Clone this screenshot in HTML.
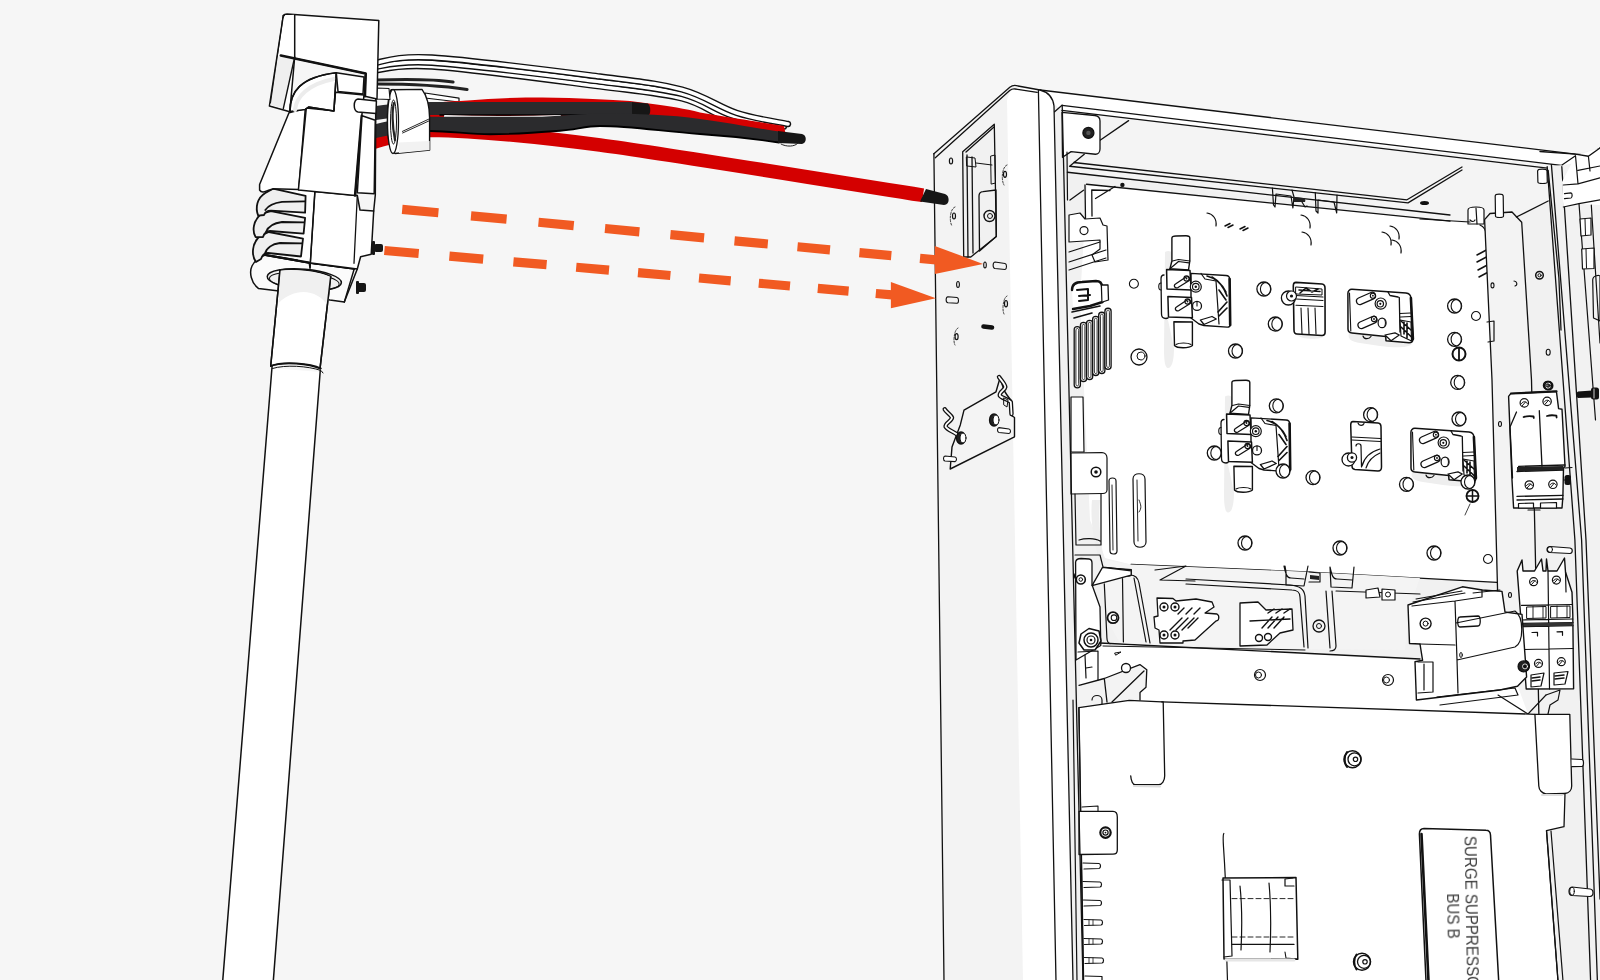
<!DOCTYPE html>
<html><head><meta charset="utf-8">
<style>
html,body{margin:0;padding:0;background:#f6f6f6;width:1600px;height:980px;overflow:hidden}
svg{display:block;position:absolute;left:0;top:0}
</style></head><body>
<svg width="1600" height="980" viewBox="0 0 1600 980">
<rect width="1600" height="980" fill="#f6f6f6"/>

<g id="cabinet" stroke="#111" stroke-width="1.3" fill="none" stroke-linejoin="round" stroke-linecap="round">
  <!-- interior base -->
  <path d="M1054,100 L1575,154 L1600,148 L1600,980 L1073,980 Z" fill="#f1f1f1" stroke="none"/>
  <!-- ceiling panel -->
  <path d="M1062,110 L1563,166 L1549,200 L1518,216 L1450,221 L1070,173 Z" fill="#f4f4f4" stroke="none"/>
  <!-- mounting plate -->
  <path d="M1087,185 L1250,201.5 L1450,221.2 L1480,225 C1484,227 1486,230 1486,234 L1503.5,574 C1503.5,579 1501,582 1497,582.3 L1300,571.6 L1131,564.5 L1105,558 L1090,520 L1080,300 Z" fill="#fff" stroke="none"/>
  <path d="M1480,225 C1484,227 1486,230 1486,234 L1503.5,574 C1503.5,579 1501,582 1497,582.3 L1300,571.6 L1131,564.5" stroke-width="1.3"/>
  <!-- plate top bracket -->
  <path d="M1086.5,184.25 L1450,221.2 M1067.4,172.25 L1450,215 M1073.75,162.5 L1407,199.8 L1462,167 M1069.6,166.25 L1408,202.9 L1462,170 M1084.25,154.25 L1069.6,166.25"/>
  <path d="M1085,185 L1085.5,218.6 M1091.75,190 L1092,216 M1070,200 L1083.5,190.25 M1095.5,198.5 L1115,186.5 M1091.75,190 L1110,190.5"/>
  <circle cx="1122.4" cy="184.9" r="2.2" fill="#111" stroke="none"/>
  <ellipse cx="1424.5" cy="202.9" rx="4.5" ry="2" fill="#111" stroke="none"/>
  <g id="toptabs" stroke-width="1.2">
    <path d="M1272.4,188 L1273.5,205 L1275,207 L1276,194 L1291,196 L1292.9,208 L1294,197 L1292,190" fill="none"/>
    <path d="M1293,197 L1303,198 C1305,198.5 1306,200 1305,202 L1294,202 Z" fill="#222" stroke="none"/>
    <path d="M1302,202 L1305,207 L1307,206" />
    <path d="M1315.3,192.7 L1316,211 L1318,213 L1318,200 L1334,202 L1336.7,213 L1337,195" fill="none"/>
    <path d="M1468,210 C1468,206 1484,206 1484,210 L1484,224 L1468,224 Z" fill="#fff"/>
    <path d="M1476,208 L1477,224 M1470,220 C1472,222 1474,222 1475,220" />
    <path d="M1420,219 L1470,222" />
  </g>
  <!-- ceiling diagonal from bracket -->
  <path d="M1099,141 L1128.6,120.6"/>
  <!-- plate details -->
  <defs>
    <g id="so"><circle cx="0" cy="0" r="7" fill="#fff" stroke-width="1.3"/><path d="M2,-6.6 A7,7 0 0 1 2,6.6 A5.5,6.6 0 0 1 2,-6.6 Z" fill="#fff" stroke-width="1.1"/></g>
    <g id="hole"><circle cx="0" cy="0" r="4.5" fill="#fff" stroke-width="1.1"/></g>
    <g id="holderA">
      <path d="M1171.9,238 C1172,236.5 1174,236 1176,236 L1186,235.8 C1188.5,235.8 1189.8,236.5 1189.8,238 L1189.8,261 L1188.5,270 L1169.9,268.8 L1171.9,261 Z" fill="#fff" stroke-width="1.4"/>
      <path d="M1172.5,261 L1178.5,259.5 L1189.8,261 M1169.9,268.8 L1178.5,261.5 L1189,262.8" stroke-width="1.2"/>
      <path d="M1164,275 C1162,275 1161,277 1161,279 L1161.5,314 C1161.5,317 1163,318.5 1166,318.5 L1168,318" fill="#fff" stroke-width="1.3"/>
      <path d="M1161,283 C1158,283 1158,290 1161,290" stroke-width="1.1"/>
      <path d="M1191,273.4 L1226,275.5 C1228.5,275.6 1229.6,277 1229.6,279 L1230.2,325 C1230.2,326.5 1229,327.3 1227,327.1 L1204,325.5 L1199,324 L1191,318 Z" fill="#fff" stroke-width="1.4"/>
      <path d="M1229.6,279 L1230.2,325" stroke-width="2.6"/>
      <path d="M1207,276 C1215,278 1222,284 1226,292 M1212,277 C1219,281 1224,287 1227,296 M1219,290 L1226,300 M1218,312 L1227,302 M1219,316 L1227,308" stroke-width="1.6"/>
      <path d="M1201,273.5 L1205,279 L1216,281 L1219,324" stroke-width="1.2"/>
      <path d="M1200.4,320 L1212,316.5 L1216.3,319 L1204,324.5 Z" fill="#fff" stroke-width="1.3"/>
      <path d="M1166.6,269.4 L1190,270.5 L1191.1,290 L1167,289 Z" fill="#fff" stroke-width="1.5"/>
      <path d="M1167.9,296.6 L1191.5,297.5 L1192.4,317.8 L1168.5,317 Z" fill="#fff" stroke-width="1.5"/>
      <path d="M1175.5,284 L1186,277 C1189,275.5 1191,279.5 1188.5,281 L1178,287.5 C1175,289 1173,285.5 1175.5,284 Z" fill="#fff" stroke-width="1.3"/>
      <circle cx="1186.5" cy="278.5" r="2.6" stroke-width="1.1"/><circle cx="1186.5" cy="278.5" r="0.9" fill="#111" stroke="none"/>
      <path d="M1176.5,307 L1187,300 C1190,298.5 1192,302.5 1189.5,304 L1179,310.5 C1176,312 1174,308.5 1176.5,307 Z" fill="#fff" stroke-width="1.3"/>
      <circle cx="1187.5" cy="301.5" r="2.6" stroke-width="1.1"/><circle cx="1187.5" cy="301.5" r="0.9" fill="#111" stroke="none"/>
      <circle cx="1195.8" cy="286.7" r="5.5" fill="#fff" stroke-width="1.2"/><circle cx="1195.8" cy="286.7" r="3.3" stroke-width="1.1"/><circle cx="1195.8" cy="286.7" r="1.2" fill="#111" stroke="none"/>
      <circle cx="1197" cy="305.9" r="4.5" fill="#fff" stroke-width="1.3"/><path d="M1197,301.5 L1197,306" stroke-width="1.1"/>
      <path d="M1173.9,321.8 L1192.4,322 L1192.4,345.5 C1189,348.5 1177,348.5 1174.5,345.5 Z" fill="#fff" stroke-width="1.4"/>
      <path d="M1176,344.5 C1179,342.5 1188,342.5 1191,344.5" stroke-width="1.1"/>
    </g>
    <g id="holderC">
      <path d="M1352,289.3 L1406,293 C1409,293.3 1410.7,295 1410.9,298 L1412.9,339 C1413,341.5 1411.5,342.8 1409,342.7 L1386,340.7 L1385.7,336.4 L1352,333 C1349.5,332.8 1348,331 1348,329 L1347.9,293.5 C1347.9,291 1349.5,289.2 1352,289.3 Z" fill="#fff" stroke-width="1.5"/>
      <path d="M1349.5,293 L1350.8,331" stroke-width="1.1"/>
      <path d="M1388,292 L1390,295.5 L1398,297 L1399.3,297.5 L1400,332" stroke-width="1.3"/>
      <path d="M1410.9,298 L1412.9,339" stroke-width="2.6"/>
      <path d="M1400,313.5 L1410.5,313 M1400.5,317 L1411,316.5" stroke-width="1.2"/>
      <path d="M1400,320 L1411,322 L1411.5,341 L1401,336 Z" fill="#fff" stroke-width="1.2"/>
      <path d="M1401,321 L1411,330 M1401,327 L1411.5,337 M1404,322 L1404,334 M1407,323 L1407,338" stroke-width="1.6"/>
      <path d="M1385,335 L1395,332.9 L1399.3,335 L1391,340.7 Z" fill="#fff" stroke-width="1.2"/>
      <path d="M1363,336 C1364,339.5 1369,339.5 1371,336.5" stroke-width="1.2"/>
      <path d="M1358.5,298 L1371,292.5 C1375,291 1377.5,297 1373.5,298.8 L1361,304.3 C1357,306 1354.5,299.8 1358.5,298 Z" fill="#fff" stroke-width="1.3"/>
      <circle cx="1372.9" cy="295.7" r="2.6" stroke-width="1.1"/><circle cx="1372.9" cy="295.7" r="0.9" fill="#111" stroke="none"/>
      <path d="M1360,322 L1372.5,316.5 C1376.5,315 1379,321 1375,322.8 L1362.5,328.3 C1358.5,330 1356,323.8 1360,322 Z" fill="#fff" stroke-width="1.3"/>
      <circle cx="1374" cy="319" r="2.6" stroke-width="1.1"/><circle cx="1374" cy="319" r="0.9" fill="#111" stroke="none"/>
      <circle cx="1380.7" cy="303.6" r="5.6" fill="#fff" stroke-width="1.2"/><circle cx="1380.3" cy="303.8" r="3.2" stroke-width="1.2"/><circle cx="1380.3" cy="303.8" r="1.1" fill="#111" stroke="none"/>
      <ellipse cx="1382.1" cy="322.9" rx="4" ry="4.8" fill="#fff" stroke-width="1.2"/><path d="M1384,319 C1386,321 1386,325 1384,327" stroke-width="1"/>
    </g>
    <g id="connE">
      <path d="M1296,282.4 L1322,284 C1324,284.2 1325,286 1325,288 L1325.1,332 C1325.1,334 1324,335.5 1322,335.5 L1297,334 C1295,334 1294,332 1294,330 L1293.3,286 C1293.3,284 1294,282.4 1296,282.4 Z" fill="#fff" stroke-width="1.6"/>
      <path d="M1296,287 L1322,289 L1322,295 L1296,294 Z" fill="#fff" stroke-width="1"/><path d="M1300,293 L1306,288 L1312,292 L1318,289 M1299,290 L1320,291.5" stroke-width="1.6"/>
      <path d="M1296,295.5 L1323,297 M1296,299 L1323,300.5 M1296,305.3 L1323,306.5 M1301,308 L1302,334 M1308,308 L1309,334 M1315,308 L1316,334" stroke-width="1.1"/>
      <circle cx="1288.4" cy="298" r="7" fill="#fff" stroke-width="1.3"/><circle cx="1291.5" cy="296" r="5" fill="#fff" stroke-width="1.2"/><circle cx="1291.5" cy="296" r="1.6" fill="#111" stroke="none"/>
    </g>
  </defs>
  <g id="shadows" fill="#eeeeee" stroke="none">
    <path d="M1165,252 C1168,250 1171,251 1172,253 L1172,268 L1161,279 L1161,318 L1168,320 L1174,348 C1174,360 1172,368 1168,368 C1165,368 1164,360 1164,350 Z"/>
    <path d="M1225,396.5 C1228,394.5 1231,395.5 1232,397.5 L1232,412.5 L1221,423.5 L1221,462.5 L1228,464.5 L1234,492.5 C1234,504.5 1232,512.5 1228,512.5 C1225,512.5 1224,504.5 1224,494.5 Z"/>
    <path d="M1349,333 L1386,337 L1390,342 L1412,344 C1408,348 1395,348 1380,346 L1360,343 C1352,342 1347,339 1349,333 Z"/>
    <path d="M1412,472 L1449,476 L1453,481 L1475,483 C1471,487 1458,487 1443,485 L1423,482 C1415,481 1410,478 1412,472 Z"/>
    <path d="M1296,334 L1324,336 C1322,340 1300,340 1296,334 Z"/>
    <path d="M1104,558 C1100,540 1098,520 1100,500 L1092,500 C1090,520 1094,545 1100,562 Z"/>
  </g>
  <use href="#holderA"/>
  <use href="#holderA" transform="translate(60,144.5)"/>
  <use href="#holderC"/>
  <use href="#holderC" transform="translate(63,139)"/>
  <use href="#connE"/>
  <g id="connF">
    <path d="M1353,421.5 L1378,423 C1380,423.2 1381,425 1381,427 L1381.5,467 C1381.5,469.5 1380,471 1378,471 L1355,469.5 C1353,469.3 1352,468 1352,466 L1350.7,425 C1350.7,423 1351.5,421.5 1353,421.5 Z" fill="#fff" stroke-width="1.5"/>
    <path d="M1358,423 C1359,426 1363,426 1364,423.5 M1352,437 L1380.5,438.5 M1352,440 L1380.5,441.5" stroke-width="1.2"/>
    <path d="M1356,446 C1356,443 1361,443 1361,446 L1361.5,467 M1362,466 C1364,458 1370,452 1380,449 M1366,468 C1368,461 1373,456 1380,453" stroke-width="1.2"/>
    <circle cx="1348.5" cy="459.5" r="6.5" fill="#fff" stroke-width="1.3"/><circle cx="1352" cy="457.5" r="4.6" fill="#fff" stroke-width="1.3"/><circle cx="1352" cy="457.5" r="1.5" fill="#111" stroke="none"/>
  </g>
  <use href="#so" x="1263.9" y="289"/><use href="#so" x="1275.3" y="324"/><use href="#so" x="1235.5" y="351"/>
  <use href="#so" x="1454.6" y="306"/><use href="#so" x="1454.6" y="339.3"/><use href="#so" x="1457.7" y="382.4"/>
  <use href="#so" x="1459" y="419"/><use href="#so" x="1276.3" y="405.8"/><use href="#so" x="1214.3" y="453"/>
  <use href="#so" x="1283" y="471"/><use href="#so" x="1313" y="477.6"/><use href="#so" x="1370.6" y="414.7"/>
  <use href="#so" x="1406.5" y="484.3"/><use href="#so" x="1468" y="482"/>
  <use href="#so" x="1245" y="543"/><use href="#so" x="1340" y="548"/><use href="#so" x="1434" y="553"/>
  <use href="#hole" x="1133.9" y="283.7"/><use href="#hole" x="1476" y="316"/><use href="#hole" x="1488" y="559"/>
  <circle cx="1139" cy="357" r="8" fill="#fff" stroke-width="1.3"/><circle cx="1141" cy="356" r="4" stroke-width="1"/>
  <circle cx="1459" cy="354" r="6.5" stroke-width="2"/><path d="M1459,348 L1459,360" stroke-width="1.8"/>
  <circle cx="1472.5" cy="496" r="6" stroke-width="1.8"/><path d="M1466.5,496 L1478.5,496 M1472.5,490 L1472.5,502" stroke-width="1.5"/>
  <path d="M1470,504 L1465,515" stroke-width="0.8"/>
  <!-- marks -->
  <path d="M1207,213 C1213,214 1217,219 1216,226" stroke-width="1.2"/>
  <path d="M1225,226 L1230,223.5 M1228,227.5 L1233,225 M1240,229 L1245,226.5 M1243,230.5 L1248,228" stroke-width="1.5"/>
  <path d="M1301,215 C1307,216 1311,221 1310,228 M1302,232 C1308,233 1312,238 1311,245" stroke-width="1.2"/>
  <path d="M1382,232 C1388,233 1392,238 1391,245 M1390,226 C1396,227 1400,232 1399,239 M1392,240 C1398,241 1402,246 1401,253" stroke-width="1.2"/>
  <path d="M1477,255 L1492,247 M1477,262 L1492,254 M1478,270 L1493,262 M1479,277 L1494,269" stroke-width="1.5"/>
  <!-- top beam -->
  <path d="M1040,90 L1575,154 L1587.8,155.1 L1600,148 L1600,160 L1563,166 L1062,110.4 L1054,104 Z" fill="#fff" stroke="none"/>
  <path d="M1040,90 L1575.5,154.1 L1587.8,155.1 L1600,148"/>
  <path d="M1062,105.3 L1563.3,165.7 M1062,110.4 L1556,169.2"/>
  <!-- corner bracket top-left -->
  <path d="M1062,112.4 L1095,115.5 C1098,116 1100,118 1100,121 L1100,149 C1100,152 1098,154.25 1095.5,154.25 L1071.1,151.6 L1062.5,157.3 Z" fill="#fff"/><path d="M1067,152 L1067.5,200" stroke-width="1.2"/>
  <circle cx="1088.4" cy="132.9" r="5.5" fill="#222"/>
  <circle cx="1088.4" cy="132.9" r="2.2" fill="#555" stroke="none"/>
  <!-- right post -->
  <path d="M1547,167 L1600,160 L1600,980 L1590,980 L1575,540 Z" fill="#f2f2f2" stroke="none"/>
  <path d="M1547.2,166.7 L1574.9,540 L1590.6,981 M1551.4,164.6 L1581.6,540 L1597.4,981 M1561.8,166.7 L1586,540 L1600,899"/>
  <!-- right region -->
  <g id="rightdet">
    <path d="M1510,981 L1501,720 L1492,380 L1484.6,219.6 L1490,213.5 L1512,212 L1521.7,222.2 L1531.5,380 L1539,720 L1545,981" fill="#f3f3f3"/>
    <path d="M1516.4,217 L1548.2,201"/>
    <path d="M1495.2,196 C1495.2,193.5 1503.2,193.5 1503.2,196 L1503.5,216 C1503.5,218 1495.5,218 1495.5,216 Z" fill="#fff" stroke-width="1.2"/>
    <path d="M1537.6,171 C1537.6,168.5 1547,168.5 1547,171 L1547.3,182 C1547.3,184 1537.9,184 1537.9,182 Z" fill="#fff" stroke-width="1.2"/>
    <circle cx="1539.5" cy="275.3" r="3.8" stroke-width="1.5"/><circle cx="1539.5" cy="275.3" r="1.6" stroke-width="1"/>
    <ellipse cx="1492.5" cy="285.4" rx="1.5" ry="2.5" stroke-width="1.1"/>
    <path d="M1514,281 C1517,281 1518,285 1515,286" stroke-width="1.1"/>
    <ellipse cx="1548.2" cy="352.2" rx="2" ry="3" stroke-width="1.1"/>
    <circle cx="1547.5" cy="385.4" r="4" stroke-width="1.5"/><circle cx="1547.5" cy="385.4" r="1.6" stroke-width="1"/>
    <ellipse cx="1500" cy="424" rx="1.5" ry="2.5" stroke-width="1.1"/>
    <ellipse cx="1510" cy="595" rx="1.5" ry="2.5" stroke-width="1.1"/>
    <path d="M1487,322 L1494,321 L1494,341 L1488,342" stroke-width="1.2"/>
    <path d="M1548.2,170.5 L1558.9,278 L1561,330" stroke-width="1.3"/>
    <path d="M1575.5,155.7 L1600,148 L1600,205 L1579,203.7 L1563.3,207 L1562,182 Z" fill="#fff" stroke="none"/>
    <path d="M1540,151.5 L1575.5,154.1 L1588.4,156.3 L1600,148" stroke-width="1.4"/>
    <path d="M1562,164.9 L1575.5,155.7 L1578,183.9 M1588.4,156.3 L1590,171 M1578,170.4 L1600,166 M1578,183.9 L1600,177.8 M1563.3,185 L1578,183.9" stroke-width="1.2"/>
    <path d="M1563.3,207 L1579,203.7 L1600,199.8 M1564.5,193.7 L1571,192.8 C1572.5,193 1572.5,197.5 1571,198 L1564.5,198.6" stroke-width="1.2"/>
    <path d="M1579,203.7 L1595.5,420 M1591.3,205 L1600,343" stroke-width="1.2"/>
    <path d="M1580,219 L1591,218 L1591,235 L1581,236 Z M1581.7,249 L1594,248 L1594,268.5 L1582.5,269 Z" fill="#fff" stroke-width="1.2"/>
    <path d="M1585,219 L1585.5,235 M1586,249 L1586.5,268" stroke-width="1"/>
    <path d="M1592.7,280 C1592.7,275 1600,275 1600,276 L1600,321 L1593.5,318 Z" stroke-width="1.2"/>
    <!-- breaker 1 -->
    <path d="M1510.7,393.6 L1556.4,391.4 L1558.6,408.6 L1562,409.3 L1565,466.4 L1563.5,468 L1562.9,496.4 L1562,508 L1513.6,508 L1512,480 L1508.6,396.4 Z" fill="#fff" stroke-width="1.4"/>
    <path d="M1511,393.5 L1556.5,391.3" stroke-width="2.2"/>
    <path d="M1516.5,412 L1510,427 L1512.5,478 M1539.3,410.7 L1542,466.4 M1518.6,466.4 L1565,465 M1517,471.5 L1563.5,470 M1517,496.4 L1562.9,495.4 M1517,500 L1563,499" stroke-width="1.3"/>
    <path d="M1517,467 L1563.5,466 L1563.5,470 L1517,471.5 Z" fill="#222" stroke="none"/>
    <path d="M1518.5,503.5 L1533.5,503 L1533.5,508 L1518.5,508 Z M1540.5,503 L1556.5,502.5 L1556.5,508 L1540.5,508 Z" fill="#fff" stroke-width="1.2"/>
    <path d="M1528,510 L1540,510" stroke-width="1.2"/>
    <path d="M1523.6,417 C1527,416 1530,416 1533.6,416.5 L1533.8,418 M1547,416 C1550,415 1553,415 1556.4,415.7 L1556.6,417.5" stroke-width="1.8"/>
    <circle cx="1524.3" cy="402.9" r="4.2" stroke-width="1.2"/><path d="M1521.5,403.5 C1523,401 1526,401 1527.3,403.5 M1522,406 L1525.5,402" stroke-width="1"/>
    <circle cx="1547.1" cy="401.4" r="4.2" stroke-width="1.2"/><path d="M1544.3,402 C1545.8,399.5 1548.8,399.5 1550.1,402 M1544.8,404.5 L1548.3,400.5" stroke-width="1"/>
    <circle cx="1529.3" cy="485" r="4.2" stroke-width="1.2"/><path d="M1526.5,485.6 C1528,483.1 1531,483.1 1532.3,485.6 M1527,488.1 L1530.5,484.1" stroke-width="1"/>
    <circle cx="1552.9" cy="484.3" r="4.2" stroke-width="1.2"/><path d="M1550.1,484.9 C1551.6,482.4 1554.6,482.4 1555.9,484.9 M1550.6,487.4 L1554.1,483.4" stroke-width="1"/>
    <circle cx="1548.6" cy="385.7" r="4" stroke-width="1.8"/><circle cx="1548.6" cy="385.7" r="1.5" stroke-width="1"/>
    <rect x="1564.5" y="475" width="6.5" height="10" rx="2.5" fill="#111" stroke="none"/>
    <path d="M1565,468 L1572,467.5 M1563.5,480 L1566,480" stroke-width="1.1"/>
    <path d="M1578,391.5 L1592,390.5 L1592,397.5 L1578,398 C1576,397 1576,392 1578,391.5 Z" fill="#111" stroke="none"/><rect x="1591" y="387.5" width="8" height="12" rx="2.5" fill="#111" stroke="none"/><path d="M1594,389 L1594,398" stroke="#fff" stroke-width="0.8"/>
    <!-- pin -->
    <path d="M1550,546.5 L1570,548 C1573,548.5 1573,553 1570,553.5 L1550,552.5 C1546,552 1546,547 1550,546.5 Z" fill="#fff" stroke-width="1.2"/>
    <ellipse cx="1550" cy="549.5" rx="2.5" ry="3" stroke-width="1"/>
    <!-- breaker 2 -->
    <path d="M1517.2,571 L1522,560 L1523,571 L1534.5,571 L1541.5,559 L1543,571 L1546,571 L1546.5,559 L1548,571 L1557,571 L1564.5,558 L1565.5,572 L1572,592.3 L1572.8,615 L1573.6,688.7 L1526.2,689 L1521,620 Z" fill="#fff" stroke-width="1.4"/>
    <path d="M1548,571 L1549.5,689 M1521.5,605.4 L1572.5,604.5 M1522,620 L1572.8,619 M1523,623.4 L1573,622.5 M1523,626.6 L1573,625.7 M1523.5,649.5 L1573.2,648.5 M1565.5,572 L1566,592" stroke-width="1.2"/>
    <path d="M1523,623.4 L1573,622.5 L1573,625.7 L1523,626.6 Z" fill="#333" stroke="none"/>
    <path d="M1527,607 L1546,606.5 L1546,618 L1527,618.5 Z M1551,606.5 L1570,606 L1570,617.5 L1551,618 Z" stroke-width="1"/>
    <path d="M1533,606.5 L1533,618 M1543,606.5 L1543,618 M1557,606 L1557,617.5 M1567,606 L1567,617.5" stroke-width="0.9"/>
    <path d="M1532,632.5 L1537.5,632.3 L1537.5,636 M1557,631.8 L1562.5,631.6 L1562.5,635.3" stroke-width="1.2"/>
    <circle cx="1533.6" cy="581.7" r="4" stroke-width="1.2"/><path d="M1530.8,582.3 C1532.3,579.8 1535.3,579.8 1536.6,582.3 M1531.3,584.8 L1534.8,580.8" stroke-width="1"/>
    <circle cx="1556.4" cy="580.1" r="4" stroke-width="1.2"/><path d="M1553.6,580.7 C1555.1,578.2 1558.1,578.2 1559.4,580.7 M1554.1,583.2 L1557.6,579.2" stroke-width="1"/>
    <circle cx="1538.5" cy="663.4" r="4" stroke-width="1.2"/><path d="M1535.7,664 C1537.2,661.5 1540.2,661.5 1541.5,664 M1536.2,666.5 L1539.7,662.5" stroke-width="1"/>
    <circle cx="1561.3" cy="661.7" r="4" stroke-width="1.2"/><path d="M1558.5,662.3 C1560,659.8 1563,659.8 1564.3,662.3 M1559,664.8 L1562.5,660.8" stroke-width="1"/>
    <path d="M1531,675 L1544,673 L1541,686 L1531,687 Z M1554,673 L1568,671.5 L1565,684 L1554,685 Z" fill="#fff" stroke-width="1.2"/>
    <path d="M1532,678 L1540,677 M1532,681 L1540,680 M1555,676 L1564,675 M1555,679 L1564,678" stroke-width="1.5"/>
    <circle cx="1523.8" cy="665.8" r="5.5" fill="#fff" stroke-width="1.6"/><circle cx="1524.5" cy="665.8" r="2.8" fill="#111" stroke="none"/>
  </g>
  <!-- lower region -->
  <g id="lowerdet">
    <!-- white bar below tray -->
    <path d="M1080,646 L1120,643 L1420,659 L1510,665 L1528,714 L1163,701.2 L1080,707 Z" fill="#fff" stroke="none"/>
    <path d="M1100,643 L1420,659" stroke-width="1.4"/>
    <path d="M1103,646 L1305,650" stroke-width="1"/>
    <!-- tray -->
    <path d="M1105,560 L1131,564.5 L1300,571.6 L1420,578 L1410,605 L1405,650 L1304,649 L1120,643 L1107,620 Z" fill="#f4f4f4" stroke="none"/>
    <path d="M1103.9,567.6 L1131.4,569.6 L1131.4,574.7 L1105,577 M1110,578 L1130,576" stroke-width="1.2"/>
    <path d="M1130,575 C1136,575 1138,578 1139,583 L1150,643 M1134,578 L1146,642" stroke-width="1.2"/>
    <path d="M1155,570 L1186,566 L1160,580 L1195,581 M1186,584 L1292,590 C1297,590 1300,593 1300,597 L1304,647" stroke-width="1.2"/>
    <path d="M1186,579 L1290,585 C1300,586 1304,589 1305,596 L1308,648" stroke-width="1.2"/>
    <path d="M1326,591 L1330,648 M1332,591 L1336,646 C1336,650 1334,651 1330,651" stroke-width="1.2"/>
    <path d="M1336,591 L1420,594" stroke-width="1.1"/>
    <!-- connectors in tray -->
    <path d="M1157,598 L1173,598.5 L1176,601 L1196,599 L1212,602 L1214,607 L1205,613 L1217,614 C1220,616 1219,621 1216,621 L1195,640 L1183,641 L1183,643 L1160,643 L1159,630 L1155,628 L1154,617 L1158,616 Z" fill="#fff" stroke-width="1.3"/>
    <circle cx="1164" cy="607" r="4" stroke-width="1.4"/><circle cx="1164" cy="607" r="1.5" fill="#111" stroke="none"/>
    <circle cx="1175" cy="607" r="4" stroke-width="1.4"/><circle cx="1175" cy="607" r="1.5" fill="#111" stroke="none"/>
    <circle cx="1164" cy="635" r="4" stroke-width="1.4"/><circle cx="1164" cy="635" r="1.5" fill="#111" stroke="none"/>
    <circle cx="1175" cy="635" r="4" stroke-width="1.4"/><circle cx="1175" cy="635" r="1.5" fill="#111" stroke="none"/>
    <path d="M1170,630 L1182,618 M1176,630 L1188,618 M1182,630 L1194,618 M1188,628 L1198,618 M1178,614 L1184,608 M1186,614 L1192,608 M1194,614 L1200,608" stroke-width="1.4"/>
    <path d="M1240,603 L1258,602 L1266,610 L1292,609 L1293,630 L1280,633 L1267,645 L1240,646 Z" fill="#fff" stroke-width="1.3"/>
    <path d="M1250,621 L1290,619 M1262,628 L1272,617 M1268,628 L1278,617 M1274,628 L1284,617 M1268,613 L1274,609 M1276,613 L1282,609 M1284,613 L1290,609" stroke-width="1.4"/>
    <circle cx="1259" cy="638" r="3.5" stroke-width="1.4"/><circle cx="1268" cy="637" r="3.5" stroke-width="1.4"/>
    <circle cx="1113" cy="617.7" r="5.5" fill="#fff" stroke-width="1.8"/><circle cx="1114" cy="617.7" r="2.8" stroke-width="1.1"/>
    <circle cx="1319" cy="626" r="6" stroke-width="1.3"/><circle cx="1319" cy="626" r="2.5" stroke-width="1"/>
    <!-- clips at plate bottom -->
    <path d="M1285,566 L1286,572 L1286,585 L1304,586 L1308,566 M1284,566 C1286,575 1287,578 1291,578 L1304,579 M1309,572 L1320,573 L1320,582 L1309,582" stroke-width="1.2"/>
    <path d="M1330,567 L1331,587 L1352,588 L1354,567 M1330,567 C1332,576 1333,579 1337,579 L1352,580" stroke-width="1.2"/>
    <path d="M1310,575 L1319,576 L1319,580 L1310,579 Z" fill="#222" stroke="none"/>
    <path d="M1366,590 L1378,588 L1380,597 L1366,598 Z M1382,589 L1395,590 L1395,600 L1382,600 Z" fill="#fff" stroke-width="1.2"/>
    <circle cx="1388" cy="594.5" r="2.5" stroke-width="1"/>
    <!-- screws on white bar -->
    <circle cx="1260" cy="675" r="5.5" stroke-width="1.2"/><circle cx="1258.5" cy="675" r="3" stroke-width="1"/>
    <circle cx="1388" cy="680" r="5.5" stroke-width="1.2"/><circle cx="1386.5" cy="680" r="3" stroke-width="1"/>
    <!-- left column -->
    <g stroke-width="1.2">
      <path d="M1074.2,329.6 C1074.2,325.5 1080.4,325.5 1080.4,329.6 L1080.4,384.7 C1080.4,388.8 1074.2,388.8 1074.2,384.7 Z" fill="#fff" stroke-width="1.3"/>
      <path d="M1075.9,330.6 C1075.9,327.5 1078.7,327.5 1078.7,330.6 L1078.7,383.7 C1078.7,386.8 1075.9,386.8 1075.9,383.7 Z" stroke-width="0.9"/>
      <path d="M1080.4,325.5 C1080.4,321.4 1086.6,321.4 1086.6,325.5 L1086.6,378.5 C1086.6,382.6 1080.4,382.6 1080.4,378.5 Z" fill="#fff" stroke-width="1.3"/>
      <path d="M1082.1,326.5 C1082.1,323.4 1084.9,323.4 1084.9,326.5 L1084.9,377.5 C1084.9,380.6 1082.1,380.6 1082.1,377.5 Z" stroke-width="0.9"/>
      <path d="M1086.5,323.5 C1086.5,319.4 1092.7,319.4 1092.7,323.5 L1092.7,376.5 C1092.7,380.6 1086.5,380.6 1086.5,376.5 Z" fill="#fff" stroke-width="1.3"/>
      <path d="M1088.2,324.5 C1088.2,321.4 1091.0,321.4 1091.0,324.5 L1091.0,375.5 C1091.0,378.6 1088.2,378.6 1088.2,375.5 Z" stroke-width="0.9"/>
      <path d="M1092.6,319.4 C1092.6,315.3 1098.8,315.3 1098.8,319.4 L1098.8,372.4 C1098.8,376.5 1092.6,376.5 1092.6,372.4 Z" fill="#fff" stroke-width="1.3"/>
      <path d="M1094.3,320.4 C1094.3,317.3 1097.1,317.3 1097.1,320.4 L1097.1,371.4 C1097.1,374.5 1094.3,374.5 1094.3,371.4 Z" stroke-width="0.9"/>
      <path d="M1098.7,315.3 C1098.7,311.2 1104.9,311.2 1104.9,315.3 L1104.9,370.4 C1104.9,374.5 1098.7,374.5 1098.7,370.4 Z" fill="#fff" stroke-width="1.3"/>
      <path d="M1100.4,316.3 C1100.4,313.2 1103.2,313.2 1103.2,316.3 L1103.2,369.4 C1103.2,372.5 1100.4,372.5 1100.4,369.4 Z" stroke-width="0.9"/>
      <path d="M1104.9,311.3 C1104.9,307.2 1111.1,307.2 1111.1,311.3 L1111.1,366.3 C1111.1,370.4 1104.9,370.4 1104.9,366.3 Z" fill="#fff" stroke-width="1.3"/>
      <path d="M1106.6,312.3 C1106.6,309.2 1109.4,309.2 1109.4,312.3 L1109.4,365.3 C1109.4,368.4 1106.6,368.4 1106.6,365.3 Z" stroke-width="0.9"/>
      <path d="M1072,290 C1072,284 1076,282 1082,282 L1096,281 C1100,281 1102,283 1102,287 L1102.5,302 L1090,306 L1073,309" fill="#fff" stroke-width="2.4"/>
      <path d="M1077,290 L1088,289 L1088,300 L1079,301 M1079,296 L1090,295" stroke-width="2"/>
      <path d="M1102,285 L1108,285 L1108.5,300 L1102.5,302" fill="#fff" stroke-width="1.3"/>
      <path d="M1072,312 L1100,306 M1074,318 L1092,313" stroke-width="1.6"/>
      <path d="M1069,215 L1080,213 L1085,219 L1100,218 L1103,225 L1107,226 L1108,260 L1095,262 L1092,255 L1100,249 L1100,240 L1069,242 Z" fill="#fff"/>
      <circle cx="1084" cy="230.6" r="4" fill="#fff"/>
      <path d="M1069,252 L1100,242 M1069,262 L1106,250 M1069,270 L1106,258" />
      <path d="M1071,397 L1083,397 L1084,452 L1071,452 Z" fill="#fff"/>
      <path d="M1071,453 L1102,452.6 C1105,452.6 1107,455 1107,458 L1107,490 C1107,492 1105,493.5 1103,493.5 L1071,494 Z" fill="#fff"/>
      <circle cx="1096" cy="472" r="4.8" stroke-width="1.5"/><circle cx="1096" cy="472" r="1.8" fill="#111" stroke="none"/>
      <path d="M1109,481 C1109,477 1116,477 1116,481 L1117,551 C1117,555 1110,555 1110,551 Z" fill="#fff"/>
      <path d="M1112,485 L1113,550" stroke-width="0.9"/>
      <path d="M1133,479 C1133,472 1145,472 1145,479 L1146,542 C1146,549 1134,549 1134,542 Z" fill="#fff"/>
      <path d="M1137,480 L1138,541 M1139,500 C1141,505 1142,508 1139,512" stroke-width="0.9"/>
      <path d="M1075,494 L1076,545 L1101,545 L1101,494 M1079,540 C1085,538 1095,538 1100,541" />
      <path d="M1075,555 L1100,555 L1103,567 L1130,570" />
      <circle cx="1078" cy="576" r="3.5"/>
    </g>
    <!-- gusset under tray -->
    <path d="M1075.6,562 C1076,559.5 1078,558.5 1081,558.5 L1089,559 C1091,559.2 1092,561 1092,563 L1092,584.7 L1100,607 L1100.8,645.5 L1076,660 Z" fill="#fff" stroke-width="1.3"/>
    <path d="M1102.5,567.4 L1131.2,570.8 L1131.2,575.2 L1092,585.6 Z" fill="#fff" stroke-width="1.3"/>
    <circle cx="1080.8" cy="579.5" r="4.5" fill="#fff" stroke-width="1.6"/><circle cx="1080.8" cy="579.5" r="1.8" stroke-width="1"/>
    <path d="M1104.3,583.9 L1106.9,637.7 C1107,641 1108,643 1110,643.75 M1122.5,578.6 L1123.4,642" stroke-width="1.2"/>
    <path d="M1079,685.4 L1104.3,678.5 L1139.9,664.6 L1146.8,669.8 L1146,687.2 L1140,692.4 L1140,700 L1105,704 L1079,706 Z" fill="#f3f3f3" stroke="none"/>
    <path d="M1104.3,678.5 L1139.9,664.6 L1146.8,669.8 L1146,687.2 L1140,692.4 L1140,700 M1104.3,678.5 L1107,702 M1112,702 L1144,671 M1079,685.4 L1104.3,678.5" stroke-width="1.3"/>
    <circle cx="1126" cy="668" r="4.5" fill="#fff" stroke-width="1.3"/>
    <path d="M1092,700 C1092,694 1102,694 1102,700 L1102,704" stroke-width="1.2"/>
    <path d="M1115,653 L1121,652 L1116,655 Z" stroke-width="1"/>
    <path d="M1081,634 L1089,628.5 L1099,631 L1101,641 L1095,650 L1084,650 L1079,643 Z" fill="#fff" stroke-width="1.5"/><circle cx="1091" cy="640" r="7" fill="#fff" stroke-width="1.5"/><circle cx="1091" cy="640" r="4" stroke-width="1.2"/><circle cx="1091" cy="640" r="1.3" fill="#111" stroke="none"/>
    <path d="M1078,652 L1098,651 L1098,680 M1085,655 L1086,678 M1086,668 L1092,667" stroke-width="1.2"/>
    <!-- terminal block -->
    <path d="M1408,605 L1462.4,586.8 L1482.2,590 L1502,591.4 L1505,612 L1522,614.4 L1526.6,677 L1517.5,686.3 L1500,690 L1416.4,700 L1415,661.8 L1422.6,660.3 L1420,644 L1409.5,643.5 Z" fill="#fff" stroke-width="1.4"/>
    <path d="M1412,606 L1455,601 L1457,660 L1458,693 M1455,601 L1482,597 L1482,590 M1457,660 L1515,647 C1524,642 1524,617 1515,611 L1456,623 M1420,644 L1455,645" stroke-width="1.2"/>
    <path d="M1413,602 L1465,593 M1416,599 L1462,591 M1473,593 L1500,590" stroke-width="1.1"/>
    <path d="M1460,617 L1478,616 C1481,616 1481,626 1478,626 L1460,627 C1457,627 1457,617 1460,617 Z" stroke-width="1.3"/>
    <circle cx="1425.6" cy="623.6" r="5.5" stroke-width="1.4"/><circle cx="1425.6" cy="623.6" r="2.5" stroke-width="1"/>
    <circle cx="1523.6" cy="666.4" r="5.5" fill="#222" stroke-width="1.3"/><circle cx="1525" cy="666.4" r="2.5" fill="#111" stroke="#fff" stroke-width="0.8"/>
    <ellipse cx="1461" cy="655" rx="1.3" ry="2.5" stroke-width="1"/>
    <path d="M1418,662 L1433,662 L1433,692 L1418,693 M1424,664 L1424,690" stroke-width="1.2"/>
    <path d="M1437,697 L1515,688 L1518,695 L1440,705" stroke-width="1.2"/>
    <path d="M1498,695 L1528,714 M1528,714 L1546,695" stroke-width="1.1"/>
    <path d="M1546,695 L1560,690 L1558,700 L1550,705 L1548,714" stroke-width="1.2"/>
  </g>
  <!-- bottom box -->
  <path d="M1078.9,707.7 L1129.2,700.4 L1161.7,701.8 L1534.9,714.3 L1569.8,714.3 L1571.7,786 C1571.7,790 1569,793 1565,793.5 L1564,826.7 L1546.5,830.6 L1558,981 L1083.6,981 Z" fill="#fff"/>
  <g id="boxdet">
    <path d="M1073,700 L1077,981 M1078.9,707.7 L1083.3,981" stroke-width="1.2"/>
    <path d="M1161.7,701.8 L1163.2,701.8 L1164.7,775.8 C1164.7,781 1162,784.7 1158.8,784.7 L1135,784.7 C1133,784.7 1131,781 1130.7,775.8" stroke-width="1.3"/>
    <path d="M1134,786 L1160,786.5" stroke="#ddd" stroke-width="2"/>
    <path d="M1534.9,714.3 L1538.8,786 C1539,790 1542,793.5 1546,793.8 L1565,793.5" stroke-width="1.3"/>
    <path d="M1542,795 L1562,795" stroke="#ddd" stroke-width="2"/>
    <path d="M1571.7,759 L1582,759.5 C1584,760 1584,766 1582,766.5 L1571.7,766.7" fill="#fff" stroke-width="1.2"/>
    <path d="M1546.5,830.6 L1558,981 M1551,831 L1563,981" stroke-width="1.2"/>
    <path d="M1572,887 L1590,889 C1594,889.5 1594,896 1590,896.5 L1572,895.5 C1568,895 1568,887.5 1572,887 Z" fill="#fff" stroke-width="1.2"/>
    <ellipse cx="1572" cy="891.3" rx="2.3" ry="4" stroke-width="1"/>
    <path d="M1079,811.3 L1113,811.3 C1116,811.3 1117.3,814 1117.3,817 L1117.3,850 C1117.3,852.5 1115.5,854.2 1113,854.2 L1079,854.5 Z" fill="#fff" stroke-width="1.3"/>
    <path d="M1082,807 L1098,806 L1098,811" stroke-width="1.1"/>
    <circle cx="1105.5" cy="832.6" r="5.2" stroke-width="2.2"/><circle cx="1105.5" cy="832.6" r="2.6" stroke-width="1.2"/><circle cx="1105.5" cy="832.6" r="0.9" fill="#111" stroke="none"/>
    <g stroke-width="1.2" fill="#fff">
      <path d="M1083,863 L1099,863.5 C1101,864 1101,868 1099,868.5 L1084,869"/>
      <path d="M1083,881.5 L1100,882 C1102,882.5 1102,886.5 1100,887 L1084,887.5"/>
      <path d="M1083.5,900 L1100,900.5 C1102,901 1102,905 1100,905.5 L1084,906"/>
      <path d="M1084,919.5 L1101,920 C1103,920.5 1103,924.5 1101,925 L1084.5,925.5"/>
      <path d="M1084,938.5 L1101,939 C1103,939.5 1103,943.5 1101,944 L1084.5,944.5"/>
      <path d="M1084.5,957.5 L1102,958 C1104,958.5 1104,962.5 1102,963 L1085,963.5"/>
      <path d="M1085,976 L1102,976.5 L1102,981"/>
      <path d="M1089,920 L1089,925 M1093,920 L1093,925 M1089,939 L1089,944 M1093,939 L1093,944 M1089,958 L1089,963 M1093,958 L1093,963" stroke-width="0.8"/>
    </g>
    <!-- latch -->
    <path d="M1223.8,833.5 C1222,836 1223.5,840 1225.3,877.9 M1226.8,959 L1227.5,981" stroke-width="1.2"/>
    <path d="M1223,877.9 L1296,877.5 L1297.8,959.2 L1224,959 Z" fill="#fff" stroke-width="1.5"/>
    <path d="M1222,880 L1230,880 L1232,956 L1224,957 M1240,886 C1242,905 1242,930 1241,950 M1269,883 C1271,905 1271,930 1270,952 M1293,878 L1285,879 L1285,886 L1294,886" stroke-width="1.2"/>
    <path d="M1232,898.6 L1294,898.6 M1232,937 L1294,937" stroke-width="0.9" stroke-dasharray="5 3"/>
    <path d="M1232,944.4 L1294,944.4" stroke-width="1.2"/>
    <path d="M1285,952 L1286,958 L1297,959" stroke-width="1.1"/>
    <path d="M1226,960 L1294,960" stroke="#e6e6e6" stroke-width="3"/>
    <!-- nuts -->
    <circle cx="1352.5" cy="759.3" r="8.5" fill="#fff" stroke-width="1.5"/><circle cx="1354.5" cy="759.3" r="6.5" stroke-width="1.3"/><circle cx="1355.5" cy="759.3" r="2.2" stroke-width="1.2"/>
    <path d="M1347,752 C1344,756 1344,763 1347,767" stroke-width="2"/>
    <circle cx="1362" cy="961.8" r="8.5" fill="#fff" stroke-width="1.5"/><circle cx="1364" cy="961.8" r="6.5" stroke-width="1.3"/><circle cx="1365" cy="961.8" r="2.2" stroke-width="1.2"/>
    <path d="M1356.5,954.5 C1353.5,958.5 1353.5,965.5 1356.5,969.5" stroke-width="2"/>
    <!-- label -->
    <path d="M1419.4,834 C1419.4,830.5 1421,828.5 1424,828.5 L1486,830.2 C1489,830.2 1490.3,832 1490.5,835 L1498.7,981 L1426,981 Z" fill="#fff" stroke-width="1.5"/>
    <path d="M1421.5,834 L1428.5,981" stroke-width="2.6"/>
    <text x="0" y="0" transform="translate(1464.5,836) rotate(89) scale(0.89,1)" font-family="Liberation Sans, sans-serif" font-size="17" fill="#3a3a3a" stroke="none" style="will-change:transform" opacity="0.99">SURGE SUPPRESSOR</text>
    <text x="0" y="0" transform="translate(1447,893.5) rotate(89) scale(0.89,1)" font-family="Liberation Sans, sans-serif" font-size="17" fill="#3a3a3a" stroke="none" style="will-change:transform" opacity="0.99">BUS B</text>
  </g>
  <!-- side panel -->
  <path d="M933.9,153.7 L1009.8,87.3 C1012,85.5 1015,85 1018,86 L1040,90 L1038,100 L1056,981 L944,981 Z" fill="#f3f3f3" stroke="none"/>
  <path d="M1007,100 C1009,92 1013,88 1019,87.5 L1040,90 C1048,92 1053,98 1054,106 L1073,981 L1023,981 Z" fill="#fff" stroke="none"/>
  <path d="M933.9,153.7 L1009.8,87.3 C1012,85.5 1015,85 1018,86 L1040,90 M935.3,157.8 L1009.7,90.6 C1011,89.5 1013,88.8 1015,89 L1037.2,92.4 M1054.6,111.7 L1062,105.3"/>
  <!-- side panel details -->
  <g id="sidedet" stroke-width="1.3">
    <path d="M962.7,151.8 L994.3,124.3 L996.3,236.5 L970.8,257 L963.7,257 Z" fill="#f1f1f1"/>
    <path d="M966,152 L994,127 M967,155 L968,257 M972,157 L973,253"/>
    <path d="M966.7,157 L975,158 L976,167 L967,166 Z M976,163 L992,165" stroke-width="1"/>
    <path d="M991,156 L995,155 L995.5,183 L991.5,184 Z" stroke-width="1"/>
    <path d="M983,191.6 L996,190 L996.3,236.5 L979.5,251 L979,196 C979,193 981,191.8 983,191.6 Z"/>
    <circle cx="989.5" cy="216" r="5.5" stroke-width="1.4"/><circle cx="990" cy="216" r="2.5" stroke-width="1"/>
    <ellipse cx="951" cy="161" rx="1.6" ry="3" stroke-width="1.2"/>
    <ellipse cx="954" cy="216" rx="1.5" ry="3" stroke-width="1.2"/><path d="M955,207 C950,209 949,221 952,226" stroke-width="0.8" stroke-dasharray="2 1.5"/>
    <ellipse cx="1005" cy="174.3" rx="1.5" ry="3" stroke-width="1.2"/><path d="M1007,165 C1002,167 1001,180 1004,185" stroke-width="0.8" stroke-dasharray="2 1.5"/>
    <ellipse cx="985" cy="265" rx="1.3" ry="3" stroke-width="1.1"/>
    <path d="M995,262 L1005,263.5 C1007,264 1007,269 1005,269.5 L995,268.5 C992.5,268 992.5,262.5 995,262 Z" stroke-width="1.1"/>
    <ellipse cx="958" cy="284.5" rx="1.4" ry="3" stroke-width="1.1"/>
    <path d="M948,296.7 L957,297.5 C959,298 959,303 957,303.3 L948,302.8 C945.5,302.5 945.5,297 948,296.7 Z" stroke-width="1.1"/>
    <ellipse cx="1006" cy="303.7" rx="1.5" ry="3.2" stroke-width="1.2"/><path d="M1007,296 C1003,298 1002,310 1004,314" stroke-width="0.8" stroke-dasharray="2 1.5"/>
    <ellipse cx="956.6" cy="336.7" rx="1.5" ry="3" stroke-width="1.2"/><path d="M958,328 C954,330 953,342 955,345" stroke-width="0.8" stroke-dasharray="2 1.5"/>
    <path d="M983.5,326.5 L992,327.5" stroke-width="4.6"/>
    <!-- bracket -->
    <path d="M950.2,469 L1014.5,436.8 L1014.5,417.5 L1011.7,415.7 L1010.8,400 C1007,395 1004,392 1003,387 L1000,378 L996,391.8 L964,410.2 L960.3,424.9 L952,447 Z" fill="#f4f4f4" stroke-width="1.4"/>
    <path d="M999,377 C1001,380 1005,384 1005.3,387 C1005,390 999,392 999.8,395.5 C1001,398 1008,399 1010.8,402 L1011.5,414" stroke-width="4.4" stroke="#111"/>
    <path d="M999,377 C1001,380 1005,384 1005.3,387 C1005,390 999,392 999.8,395.5 C1001,398 1008,399 1010.8,402 L1011.5,414" stroke-width="1.8" stroke="#fff"/>
    <path d="M944.7,409.3 C946,412 951,415 952,417.5 C952,421 945,423 945.6,426.7 C947,430 955,432 957.5,435" stroke-width="4.4" stroke="#111"/>
    <path d="M944.7,409.3 C946,412 951,415 952,417.5 C952,421 945,423 945.6,426.7 C947,430 955,432 957.5,435" stroke-width="1.8" stroke="#fff"/>
    <ellipse cx="994" cy="420" rx="4.5" ry="6" fill="#222"/><ellipse cx="996" cy="420" rx="3" ry="5" fill="#fff" stroke-width="1"/>
    <ellipse cx="961" cy="438" rx="4.5" ry="6" fill="#222"/><ellipse cx="963" cy="438" rx="3" ry="5" fill="#fff" stroke-width="1"/>
    <path d="M999,427.6 L1009,429 C1011,429.5 1011,433 1009,433.5 L999,432.5 C997,432 997,428 999,427.6 Z" stroke-width="1.1" fill="#fff"/>
    <path d="M945,456 L955,457 C957,457.5 957,461 955,461.6 L945,461 C943,460.5 943,456.5 945,456 Z" stroke-width="1.1" fill="#fff"/>
    <path d="M1004,398 L1008,400 L1007,407 L1004,405 Z" stroke-width="1"/>
  </g>
  <path d="M933.9,153.7 L944,981"/>
  <path d="M1038.4,90.4 L1056,981 M1040,90 C1048,92 1053,98 1054,106 L1073,981 M1062.2,105.3 L1083,981"/>
</g>
<!-- ============ CABLES ============ -->
<g id="cables" stroke-linejoin="round" stroke-linecap="round">
  <!-- white wires -->
  <g fill="none">
    <path d="M372.0,71.0 C382.0,70.2 394.0,63.9 432.0,66.5 C470.0,69.1 558.3,81.1 600.0,86.4 C641.7,91.7 660.8,93.2 682.0,98.5 C703.2,103.8 710.7,112.9 727.0,118.0 C743.3,123.1 771.2,127.2 780.0,129.0" stroke="#111" stroke-width="6.4"/>
    <path d="M372.0,71.0 C382.0,70.2 394.0,63.9 432.0,66.5 C470.0,69.1 558.3,81.1 600.0,86.4 C641.7,91.7 660.8,93.2 682.0,98.5 C703.2,103.8 710.7,112.9 727.0,118.0 C743.3,123.1 771.2,127.2 780.0,129.0" stroke="#fff" stroke-width="3.6"/>
    <path d="M372.0,67.5 C382.0,66.7 394.0,60.4 432.0,62.7 C470.0,65.0 558.3,76.4 600.0,81.6 C641.7,86.8 660.0,88.3 682.0,94.0 C704.0,99.7 715.0,110.1 732.0,115.5 C749.0,120.9 775.3,124.7 784.0,126.5" stroke="#111" stroke-width="6.4"/>
    <path d="M372.0,67.5 C382.0,66.7 394.0,60.4 432.0,62.7 C470.0,65.0 558.3,76.4 600.0,81.6 C641.7,86.8 660.0,88.3 682.0,94.0 C704.0,99.7 715.0,110.1 732.0,115.5 C749.0,120.9 775.3,124.7 784.0,126.5" stroke="#fff" stroke-width="3.6"/>
    <path d="M372.0,63.5 C382.0,62.5 394.0,55.3 432.0,57.5 C470.0,59.7 558.3,71.2 600.0,76.5 C641.7,81.8 659.2,83.4 682.0,89.5 C704.8,95.6 719.3,107.2 737.0,113.0 C754.7,118.8 779.5,122.2 788.0,124.0" stroke="#111" stroke-width="6.4"/>
    <path d="M372.0,63.5 C382.0,62.5 394.0,55.3 432.0,57.5 C470.0,59.7 558.3,71.2 600.0,76.5 C641.7,81.8 659.2,83.4 682.0,89.5 C704.8,95.6 719.3,107.2 737.0,113.0 C754.7,118.8 779.5,122.2 788.0,124.0" stroke="#fff" stroke-width="3.6"/>
    <path d="M376,80 C410,79 440,80 453,82" stroke="#222" stroke-width="3.2"/>
    <path d="M376,84 C410,84 445,86 467,89.5" stroke="#222" stroke-width="3.2"/>
  </g>
  <path d="M425,93 L459,98.2 L459,102 L425,98 Z" fill="#fff" stroke="#111" stroke-width="1.2"/>
  <!-- lower red R2 -->
  <path d="M374,142 C395,136 410,131 430,130 C480,131 540,137 600,145 C660,153 800,176 923,195.3" fill="none" stroke="#d40000" stroke-width="13.8" stroke-linecap="butt"/>
  <path d="M926,189 L945,194 C950,195.5 950,205 944,205 L920,201.5 Z" fill="#161616"/>
  <!-- upper red R1 -->
  <path d="M430,104 C440,102 450,101 460,101 C500,98 520,97.5 542,97.5 C580,98 610,100 630,101 L649,103.6 C670,106 685,109 700,112.4 C740,119 760,122 784,126 L786,136 L700,125 L430,121 Z" fill="#d40000"/>
  <!-- dark D1 -->
  <path d="M376,106 C395,103 415,101.9 440,101.9 L633,101.9 L633,115 L440,115 C415,115 395,117 376,120 Z" fill="#2b2b2d"/>
  <path d="M440,115 L633,115" stroke="#000" stroke-width="1.6" fill="none"/>
  <path d="M632,101.9 L648,103.4 C651,106 651,114 648,116 L632,115.2 Z" fill="#161616"/>
  <path d="M445,116.2 C480,117.5 520,117.5 560,116" stroke="#f6f6f6" stroke-width="2.2" fill="none"/>
  <!-- dark D2 -->
  <path d="M376,124 C395,119 415,116.75 440,116.75 L542,116.75 C565,116 585,113.6 600,113.6 C640,113.6 670,115 700,119 C730,123 755,128 779,131.5 L779,142.5 C755,139 730,136 700,134 C660,131 630,126 600,126 C585,126 575,130 560,130.75 C530,133 510,134.25 490,134.25 C470,134 450,131 430,130.75 C410,131 395,134 376,138 Z" fill="#2b2b2d"/>
  <path d="M430,131 C450,131 470,134.25 490,134.25 C510,134.25 530,133 560,130.75 C575,130 585,126 600,126 C630,126 660,131 700,134 C730,136 755,139 779,142.5" stroke="#000" stroke-width="1.8" fill="none"/>
  <path d="M778,131 L802,134 C807,135 807,143 802,144 L778,143 Z" fill="#161616"/>
  <path d="M781,144 C786,147 795,147 798,143" fill="none" stroke="#222" stroke-width="1"/>
  <!-- ferrite ring -->
  <path d="M391,89.8 L422,89.4 C427,96 429.5,108 429.6,118 L429.6,150 L395,153.5 C389,150 387.5,135 387.5,121 C387.5,105 389,93 391,89.8 Z" fill="#fff" stroke="#111" stroke-width="1.4"/>
  <ellipse cx="393" cy="121.5" rx="5.5" ry="32" fill="#fff" stroke="#111" stroke-width="1.3"/>
  <ellipse cx="393.5" cy="122" rx="3" ry="22" fill="#fff" stroke="#111" stroke-width="1"/>
  <path d="M394,103 C392,110 392,125 395,140" fill="none" stroke="#222" stroke-width="2.2"/>
  <path d="M402.4,131.4 L428.6,119.2 M402.6,133 L428.8,121" fill="none" stroke="#111" stroke-width="0.9"/>
  <path d="M398.5,142.5 L429.6,141 L429.6,150 L399,153 Z" fill="#f2f2f2" stroke="none"/>
  <path d="M376,88 L389,88.5 L390,99.5 L376,99 Z" fill="#fff" stroke="#111" stroke-width="1.1"/>
</g>

<!-- ============ POLE + FIXTURE ============ -->
<g id="fixture" stroke="#111" stroke-width="1.5" fill="#fff" stroke-linejoin="round" stroke-linecap="round">
  <!-- pole lower -->
  <path d="M272.1,368 L222.7,981 L273.3,981 L320.3,372 Z" stroke="none"/>
  <path d="M272.1,366 L222.7,981 M320.3,370 L273.3,981" fill="none"/>
  <!-- base plate -->
  <path d="M265.3,255 L309.2,262.7 L354.3,268.6 L344.3,302.1 L330,300 L277,290.7 L258.6,288.6 C251,283 249,272 252,266 C255,260 259,257 265.3,255 Z" fill="#fbfbfb"/>
  <path d="M265.3,255 L309.2,262.7 L354.3,268.6" fill="none" stroke-width="2.2"/>
  <!-- ring hole -->
  <ellipse cx="304.3" cy="279.6" rx="37.2" ry="10.3" transform="rotate(5 304.3 279.6)" fill="#f0f0f0"/>
  <ellipse cx="304.3" cy="281.2" rx="35" ry="8.6" transform="rotate(5 304.3 281.2)" fill="none" stroke-width="1"/>
  <!-- sleeve -->
  <path d="M280,270 L270.7,366 C283,361 310,364 320,368.6 L330.7,276.4 C318,270 292,268 280,270 Z" fill="#fff"/>
  <path d="M280,271 C292,269 318,271 330.5,277 L328,305.7 C318,290 296,286 278.6,302.9 Z" fill="#f0f0f0" stroke="none"/>
  <path d="M280,270 L270.7,366 M330.7,276.4 L320,368.6" fill="none"/>
  <path d="M270.7,366 C283,361 310,363 321,368.5" fill="none" stroke-width="1.6"/>
  <path d="M272.5,368.5 C285,364.5 308,366 321,370.5 L323,373" fill="none" stroke-width="1"/>

  <path d="M290,190 L315,191.4 L310.3,262 L298,260 Z" fill="#fff" stroke="none"/>
  <!-- fins (bottom to top) -->
  <g stroke-width="1.8">
    <path d="M268.9,232 L303,238.7 L301,256.5 L268,253 C264,253 262,256 261,259 L256,262 C251,255 252,243 260,236 Z" fill="#efefef"/>
    <path d="M302,243.3 L280,243 C272,244 266,248 265,254" fill="none"/>
    <path d="M270.9,211.1 L305.1,217.8 L303.6,233.6 L270,231 C266,231 264,234 263,237 L255.6,237.1 C252,231 253,221 261,214 Z" fill="#efefef"/>
    <path d="M304,222.3 L282,222 C274,223 268,227 266,232" fill="none"/>
    <path d="M273,188.7 L305.6,195.8 L305.1,212.7 L271,210.6 C267,210.6 265,212 264,215 L258.2,215.7 C255,208 257,198 265.3,193 Z" fill="#efefef"/>
    <path d="M304.6,201.4 L282,201.9 C274,203 268,206 265.3,210" fill="none"/>
  </g>
  <path d="M265.3,255 L309.2,262.7 L354.3,268.6" fill="none" stroke-width="2.2"/>
  <!-- lower block -->
  <path d="M314.9,191.4 L357.3,195.5 L360,210 L373.7,211 L371.2,254.3 L360.6,256.7 L357.3,269 L309.2,262.7 L310,268 Z" fill="#fff"/>
  <path d="M314.9,191.4 L310,268.2 M357.3,195.5 L354,263.3" fill="none" stroke-width="1.3"/>
  <path d="M357.3,269 L344.3,302.1" fill="none"/>
  <!-- left sloped face -->
  <path d="M289,112.7 L305.3,108.6 L298.8,189.4 L273,188.7 C266,191 262,194 259.6,190 L259.6,184.5 Z" fill="#fff"/>
  <!-- main body front face -->
  <path d="M306.3,108 L333.8,110.8 L335.5,92.2 L364,95 L361.8,115.8 L355.1,195.5 L298.4,189.9 Z" fill="#fff"/>
  <path d="M361.8,115.8 L355.1,195.5" fill="none" stroke-width="2.6"/>
  <!-- right thin face -->
  <path d="M362,115.8 L375.3,120.3 L374.2,193.8 L357.3,192.7 Z" fill="#fff"/>
  <path d="M376,60 L375.3,195 L373.7,211" fill="none"/>
  <!-- head -->
  <path d="M287,14 L378.8,20.4 L377,99 L364.9,96.3 L365.7,73.5 L280.8,55.5 L283.3,15.5 C284,14.5 285.5,14 287,14 Z" fill="#fff"/>
  <path d="M283.3,15.5 L269.4,106 L289.8,111.8 L294.7,57 L294.7,14.7" fill="#fff"/>
  <path d="M277.6,56.5 L294.2,59.5 L283.5,108.5 L270.5,105 Z" fill="#efefef" stroke="none"/>
  <path d="M285,15 C283,16 282,20 282,24 L270.5,103" fill="none" stroke-width="1"/>
  <path d="M294.7,57 L283.3,108.6" fill="none" stroke-width="1.4"/>
  <path d="M280.8,55.5 L365.7,73.5 L364.9,96.3" fill="none" stroke-width="2.6"/>
  <!-- neck -->
  <path d="M290,111.5 C290,92 300,77 336.3,72.7 L333.9,111 L308.6,107 L305.3,109.4 Z" fill="#fff"/>
  <path d="M336.3,72.7 L364,77 L363,94 L338,91.4 Z" fill="#fff"/>
  <path d="M295,110 C296,97 308,84 334,79" fill="none" stroke="#ececec" stroke-width="4"/>
  <path d="M290,111.5 C290,92 300,77 336.3,72.7 L333.9,111 L308.6,107 L305.3,109.4" fill="none"/>
  <!-- tab -->
  <path d="M358,99 L376.4,101 L376,113.6 L358,112 C353,111 353,100 358,99 Z" fill="#fff"/>
  <!-- bolts -->
  <g fill="#151515" stroke="none">
    <rect x="374" y="244" width="9" height="8" rx="2"/>
    <rect x="372" y="241" width="3" height="14" rx="1"/>
    <rect x="357" y="283" width="9" height="9" rx="2"/>
    <rect x="356" y="281" width="3" height="13" rx="1"/>
  </g>
</g>


<g id="arrows" fill="#f15a22">
  <path d="M401.8,213.9 L438.0,217.3 L438.8,208.2 L402.6,204.7Z M470.6,220.4 L506.2,223.8 L507.0,214.6 L471.4,211.3Z M538.1,226.8 L573.3,230.2 L574.2,221.0 L538.9,217.7Z M604.6,233.1 L639.0,236.4 L639.8,227.2 L605.4,224.0Z M670.0,239.3 L703.7,242.5 L704.5,233.3 L670.8,230.1Z M734.1,245.4 L767.4,248.5 L768.2,239.4 L734.9,236.2Z M797.1,251.3 L829.6,254.4 L830.4,245.3 L797.9,242.2Z M859.0,257.2 L890.9,260.2 L891.7,251.1 L859.8,248.0Z M919.6,262.9 L935.6,264.5 L936.4,255.3 L920.4,253.8Z"/>
  <path d="M934.8,245.9 L983.1,263.9 L934.8,274 Z"/>
  <path d="M384.0,255.1 L418.3,258.1 L419.1,248.9 L384.8,245.9Z M449.0,260.8 L482.8,263.7 L483.6,254.5 L449.8,251.6Z M513.0,266.4 L546.2,269.3 L547.0,260.1 L513.8,257.2Z M575.8,271.8 L608.6,274.7 L609.4,265.6 L576.6,262.7Z M637.6,277.3 L670.0,280.1 L670.8,270.9 L638.4,268.1Z M698.6,282.6 L730.3,285.4 L731.1,276.2 L699.4,273.4Z M758.4,287.8 L789.6,290.6 L790.4,281.4 L759.2,278.7Z M817.4,293.0 L848.2,295.7 L849.0,286.5 L818.2,283.8Z M875.4,298.1 L891.6,299.5 L892.4,290.3 L876.2,288.9Z"/>
  <path d="M890.9,281.9 L935.9,298.3 L890.9,308.2 Z"/>
</g>
</svg>
</body></html>
